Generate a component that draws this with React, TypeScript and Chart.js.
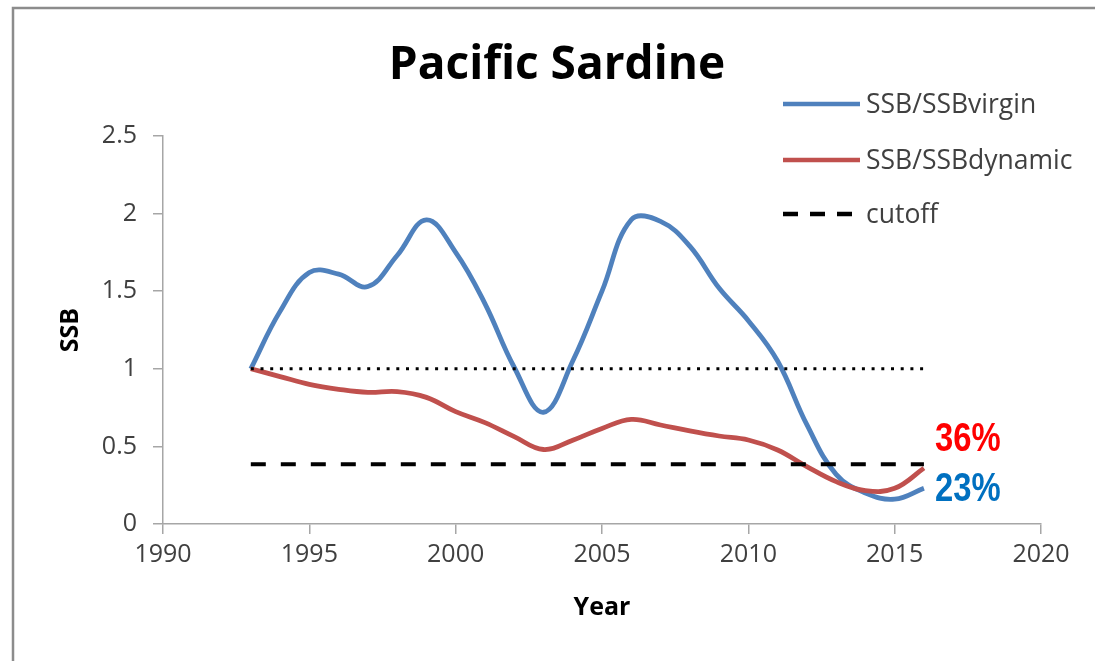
import React, { useEffect, useRef } from 'react';
import { Chart, registerables } from 'chart.js';

Chart.register(...registerables);

const chartTitle = 'Pacific Sardine';
const xAxisTitle = 'Year';
const yAxisTitle = 'SSB';
const years = [1993, 1994, 1995, 1996, 1997, 1998, 1999, 2000, 2001, 2002, 2003, 2004, 2005, 2006, 2007, 2008, 2009, 2010, 2011, 2012, 2013, 2014, 2015, 2016];
const ssbVirgin = [1.0, 1.37, 1.62, 1.61, 1.53, 1.73, 1.96, 1.75, 1.42, 1.01, 0.72, 1.05, 1.50, 1.96, 1.95, 1.79, 1.52, 1.31, 1.05, 0.64, 0.32, 0.2, 0.16, 0.23];
const ssbDynamic = [1.0, 0.95, 0.9, 0.868, 0.848, 0.853, 0.816, 0.724, 0.653, 0.563, 0.48, 0.54, 0.616, 0.674, 0.638, 0.6, 0.567, 0.541, 0.477, 0.37, 0.273, 0.215, 0.23, 0.36];
const cutoffValue = 0.385;
const referenceValue = 1;
const seriesLabels = ['SSB/SSBvirgin', 'SSB/SSBdynamic', 'cutoff'];
const xRange = [1990, 2020];
const yRange = [0, 2.5];
const xStep = 5;
const yStep = 0.5;

const BLUE = '#4F81BD';
const RED = '#C0504D';
const FONT = '"Open Sans", "Liberation Sans", sans-serif';

const decorPlugin = {
  id: 'decor',
  beforeDraw(chart: any) {
    const ctx = chart.ctx;
    ctx.save();
    ctx.fillStyle = '#ffffff';
    ctx.fillRect(0, 0, chart.width, chart.height);
    ctx.strokeStyle = '#8c8c8c';
    ctx.lineWidth = 2.5;
    ctx.beginPath();
    ctx.moveTo(13, chart.height);
    ctx.lineTo(13, 8);
    ctx.lineTo(chart.width, 8);
    ctx.stroke();
    ctx.restore();
  },
  afterDraw(chart: any) {
    const ctx = chart.ctx;
    const xs = chart.scales.x;
    const ys = chart.scales.y;
    ctx.save();
    // title
    ctx.fillStyle = '#000';
    ctx.font = `bold 46px ${FONT}`;
    ctx.textAlign = 'center';
    ctx.textBaseline = 'middle';
    ctx.fillText(chartTitle, 557, 66);

    // legend
    const legendRows = [
      { label: chart.data.datasets[0].label, color: BLUE, dash: [] as number[] },
      { label: chart.data.datasets[1].label, color: RED, dash: [] as number[] },
      { label: chart.data.datasets[2].label, color: '#000', dash: [15, 12] },
    ];
    const rowY = [104, 160, 214];
    legendRows.forEach((r, i) => {
      ctx.beginPath();
      ctx.setLineDash(r.dash);
      ctx.strokeStyle = r.color;
      ctx.lineWidth = 4.5;
      ctx.lineCap = 'butt';
      ctx.moveTo(783, rowY[i]);
      ctx.lineTo(860, rowY[i]);
      ctx.stroke();
      ctx.setLineDash([]);
      ctx.fillStyle = '#404040';
      ctx.font = `26.5px ${FONT}`;
      ctx.textAlign = 'left';
      ctx.textBaseline = 'middle';
      ctx.fillText(r.label, 866, rowY[i] + 1);
    });

    // end labels
    const lastYear = years[years.length - 1];
    const endX = xs.getPixelForValue(lastYear) + 11;
    const labels = [
      { v: ssbDynamic[ssbDynamic.length - 1], color: '#FF0000', dy: -28 },
      { v: ssbVirgin[ssbVirgin.length - 1], color: '#0070C0', dy: 2 },
    ];
    labels.forEach((l) => {
      const txt = `${Math.round(l.v * 100)}%`;
      ctx.save();
      ctx.translate(endX, ys.getPixelForValue(l.v) + l.dy);
      ctx.scale(0.82, 1);
      ctx.fillStyle = l.color;
      ctx.font = 'bold 40px "Liberation Sans", sans-serif';
      ctx.textAlign = 'left';
      ctx.textBaseline = 'middle';
      ctx.fillText(txt, 0, 0);
      ctx.restore();
    });
    ctx.restore();
  },
};

export default function App() {
  const ref = useRef<HTMLCanvasElement | null>(null);
  useEffect(() => {
    if (!ref.current) return;
    const pts = (vals: number[]) => years.map((y, i) => ({ x: y, y: vals[i] }));
    const flat = (v: number) => [years[0], years[years.length - 1]].map((y) => ({ x: y, y: v }));
    const chart = new Chart(ref.current, {
      type: 'line',
      data: {
        datasets: [
          {
            label: seriesLabels[0],
            data: pts(ssbVirgin),
            borderColor: BLUE,
            borderWidth: 4.8,
            pointRadius: 0,
            tension: 0.4,
            order: 4,
          },
          {
            label: seriesLabels[1],
            data: pts(ssbDynamic),
            borderColor: RED,
            borderWidth: 4.8,
            pointRadius: 0,
            tension: 0.4,
            order: 3,
          },
          {
            label: seriesLabels[2],
            data: flat(cutoffValue),
            borderColor: '#000',
            borderWidth: 4,
            borderDash: [15, 15],
            pointRadius: 0,
            order: 2,
          },
          {
            label: 'reference',
            data: flat(referenceValue),
            borderColor: '#000',
            borderWidth: 3,
            borderDash: [3, 6.7],
            pointRadius: 0,
            order: 1,
          },
        ],
      },
      options: {
        animation: false,
        responsive: false,
        maintainAspectRatio: false,
        layout: { padding: { top: 136, right: 54, left: 0, bottom: 0 } },
        plugins: {
          legend: { display: false },
          title: { display: false },
          tooltip: { enabled: false },
        },
        scales: {
          x: {
            type: 'linear',
            min: xRange[0],
            max: xRange[1],
            afterFit: (s: any) => { s.height = 137; },
            afterBuildTicks: (s: any) => {
              const t = [];
              for (let v = xRange[0]; v <= xRange[1]; v += xStep) t.push({ value: v });
              s.ticks = t;
            },
            ticks: {
              stepSize: xStep,
              callback: (v: any) => String(v),
              color: '#404040',
              font: { family: FONT, size: 25 },
              padding: 6,
              maxRotation: 0,
            },
            grid: { drawOnChartArea: false, drawTicks: true, tickLength: 10, color: '#a6a6a6', lineWidth: 1.5 },
            border: { color: '#a6a6a6', width: 1.5 },
            title: {
              display: true,
              text: xAxisTitle,
              color: '#000',
              font: { family: FONT, size: 25, weight: 'bold' },
              padding: { top: 0, bottom: 38 },
            },
          },
          y: {
            type: 'linear',
            min: yRange[0],
            max: yRange[1],
            afterFit: (s: any) => { s.width = 163; },
            ticks: {
              stepSize: yStep,
              callback: (v: any) => String(v),
              color: '#404040',
              font: { family: FONT, size: 25 },
              padding: 16,
            },
            grid: { drawOnChartArea: false, drawTicks: true, tickLength: 10, color: '#a6a6a6', lineWidth: 1.5 },
            border: { color: '#a6a6a6', width: 1.5 },
            title: {
              display: true,
              text: yAxisTitle,
              color: '#000',
              font: { family: FONT, size: 25, weight: 'bold' },
              padding: { top: 56, bottom: 0 },
            },
          },
        },
      },
      plugins: [decorPlugin],
    } as any);
    return () => chart.destroy();
  }, []);
  return (
    <div style={{ position: 'fixed', left: 0, top: 0, width: 1095, height: 661, background: '#fff' }}>
      <canvas ref={ref} width={1095} height={661} style={{ width: 1095, height: 661, display: 'block' }} />
    </div>
  );
}
